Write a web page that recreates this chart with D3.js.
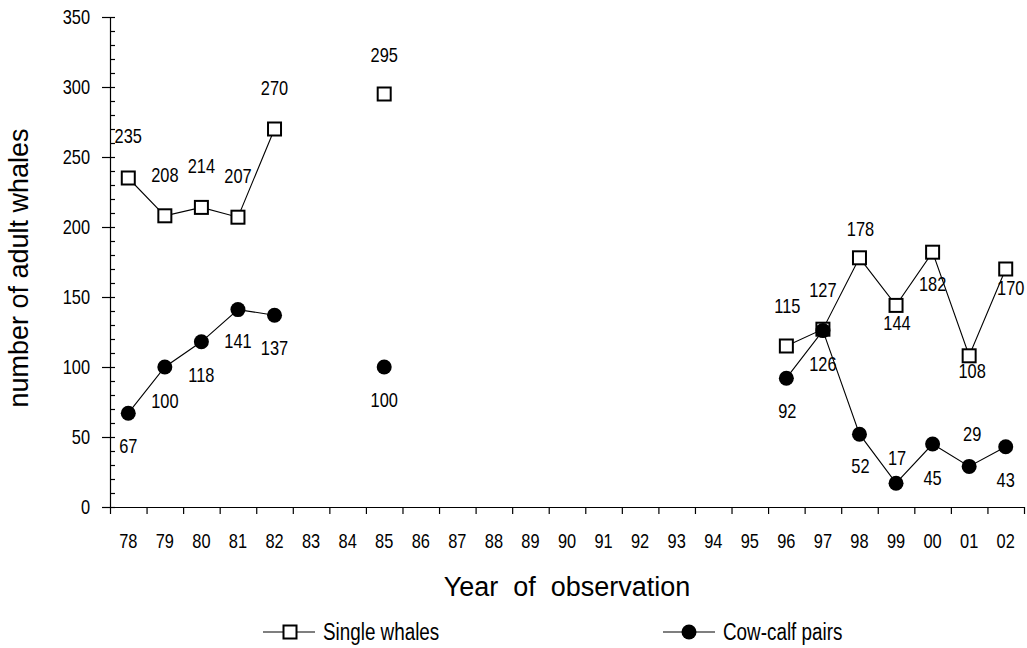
<!DOCTYPE html>
<html>
<head>
<meta charset="utf-8">
<script src="https://cdn.jsdelivr.net/npm/d3@7/dist/d3.min.js"></script>
<style>
  html, body { margin: 0; padding: 0; background: #fff; }
  svg { display: block; }
  text { font-family: "Liberation Sans", Arial, sans-serif; fill: #000; }
</style>
</head>
<body>
<svg id="chart" width="1027" height="648"></svg>
<script>
// Survey years (two-digit labels) and annual counts; null = no survey that year
const years = ["78","79","80","81","82","83","84","85","86","87","88","89","90",
               "91","92","93","94","95","96","97","98","99","00","01","02"];
const singleWhales = [235, 208, 214, 207, 270, null, null, 295, null, null, null, null, null,
                      null, null, null, null, null, 115, 127, 178, 144, 182, 108, 170];
const cowCalfPairs = [67, 100, 118, 141, 137, null, null, 100, null, null, null, null, null,
                      null, null, null, null, null, 92, 126, 52, 17, 45, 29, 43];
const yTicks = [0, 50, 100, 150, 200, 250, 300, 350];

// Value-label placement: [dx, baseline offset from the marker centre]
const singleLabelPos = {
  "78":[0,-35],"79":[0,-34],"80":[0,-34],"81":[0,-34],"82":[0,-34],"85":[0,-32],
  "96":[1,-33],"97":[0,-32],"98":[1,-22],"99":[1,25],"00":[0,39],"01":[3,22],"02":[5,26]
};
const cowLabelPos = {
  "78":[0,40],"79":[0,41],"80":[0,40],"81":[0,38],"82":[0,40],"85":[0,40],
  "96":[1,40],"97":[0,40],"98":[1,39],"99":[1,-18],"00":[0,41],"01":[3,-25],"02":[0,40]
};

// Horizontal squeeze that gives the condensed look of the small labels
const SQUEEZE = 0.82;
function condense(sel) {
  sel.each(function () {
    const t = d3.select(this);
    const x0 = +t.attr("x") || 0;
    t.attr("x", x0 / SQUEEZE).attr("transform", `scale(${SQUEEZE},1)`);
  });
}

const svg = d3.select("#chart");
const plotL = 110, plotR = 1024, plotT = 17, plotB = 507;

const x = d3.scaleBand().domain(years).range([plotL, plotR]).padding(0);
const xEdge = d3.scaleLinear().domain([0, years.length]).range([plotL, plotR]);
const y = d3.scaleLinear().domain([0, 350]).range([plotB, plotT]);
const cx = (yr) => x(yr) + x.bandwidth() / 2;

// ---- Y axis: major ticks on the left, minor ticks every 10 on the right
const yMinor = svg.append("g")
  .attr("transform", `translate(${plotL},0)`)
  .call(d3.axisRight(y).tickValues(d3.range(0, 351, 10)).tickSize(5).tickFormat(""));
yMinor.select(".domain").remove();

const yAxis = svg.append("g")
  .attr("transform", `translate(${plotL},0)`)
  .call(d3.axisLeft(y).tickValues(yTicks).tickSize(8).tickPadding(12).tickSizeOuter(0));
yAxis.selectAll("text").attr("font-size", 20).attr("fill", "#000").call(condense);

// ---- X axis: ticks at category boundaries, labels centred in each band
svg.append("g")
  .attr("transform", `translate(0,${plotB})`)
  .call(d3.axisBottom(xEdge).tickValues(d3.range(0, years.length + 1)).tickSize(7).tickFormat("").tickSizeOuter(0));

const xAxis = svg.append("g")
  .attr("transform", `translate(0,${plotB})`)
  .call(d3.axisBottom(x).tickSize(0).tickPadding(27));
xAxis.select(".domain").remove();
xAxis.selectAll("text").attr("font-size", 20).attr("fill", "#000").call(condense);

svg.selectAll(".domain, .tick line").attr("stroke", "#000").attr("stroke-width", 1.2);

// ---- Axis titles
svg.append("text")
  .attr("x", (plotL + plotR) / 2).attr("y", 596)
  .attr("text-anchor", "middle").attr("font-size", 27)
  .style("white-space", "pre")
  .text("Year  of  observation");

svg.append("text")
  .attr("transform", `translate(28,${(plotT + plotB) / 2 + 6}) rotate(-90)`)
  .attr("text-anchor", "middle").attr("font-size", 27)
  .text("number of adult whales");

// ---- Series
const single = years.map((yr, i) => ({ yr, v: singleWhales[i] }));
const cow = years.map((yr, i) => ({ yr, v: cowCalfPairs[i] }));

const line = d3.line().defined(d => d.v !== null).x(d => cx(d.yr)).y(d => y(d.v));

svg.append("path").datum(single).attr("d", line)
  .attr("fill", "none").attr("stroke", "#000").attr("stroke-width", 1.1);
svg.append("path").datum(cow).attr("d", line)
  .attr("fill", "none").attr("stroke", "#000").attr("stroke-width", 1.1);

const sq = 13;
svg.append("g").selectAll("rect")
  .data(single.filter(d => d.v !== null))
  .join("rect")
  .attr("x", d => cx(d.yr) - sq / 2).attr("y", d => y(d.v) - sq / 2)
  .attr("width", sq).attr("height", sq)
  .attr("fill", "#fff").attr("stroke", "#000").attr("stroke-width", 2);

svg.append("g").selectAll("circle")
  .data(cow.filter(d => d.v !== null))
  .join("circle")
  .attr("cx", d => cx(d.yr)).attr("cy", d => y(d.v)).attr("r", 7.5)
  .attr("fill", "#000");

// ---- Value labels
function addLabels(data, pos) {
  svg.append("g").selectAll("text")
    .data(data.filter(d => d.v !== null))
    .join("text")
    .attr("font-size", 20)
    .attr("text-anchor", "middle")
    .attr("x", d => cx(d.yr) + pos[d.yr][0])
    .attr("y", d => y(d.v) + pos[d.yr][1])
    .text(d => d.v)
    .call(condense);
}
addLabels(single, singleLabelPos);
addLabels(cow, cowLabelPos);

// ---- Legend
const lg = svg.append("g");
lg.append("line").attr("x1", 263).attr("x2", 315).attr("y1", 632).attr("y2", 632)
  .attr("stroke", "#000").attr("stroke-width", 1.1);
lg.append("rect").attr("x", 290 - sq / 2).attr("y", 632 - sq / 2).attr("width", sq).attr("height", sq)
  .attr("fill", "#fff").attr("stroke", "#000").attr("stroke-width", 2);
lg.append("text").attr("font-size", 23)
  .attr("x", 323).attr("y", 640).text("Single whales").call(condense);

lg.append("line").attr("x1", 663).attr("x2", 715).attr("y1", 632).attr("y2", 632)
  .attr("stroke", "#000").attr("stroke-width", 1.1);
lg.append("circle").attr("cx", 689).attr("cy", 632).attr("r", 7.5).attr("fill", "#000");
lg.append("text").attr("font-size", 23)
  .attr("x", 723).attr("y", 640).text("Cow-calf pairs").call(condense);
</script>
</body>
</html>
